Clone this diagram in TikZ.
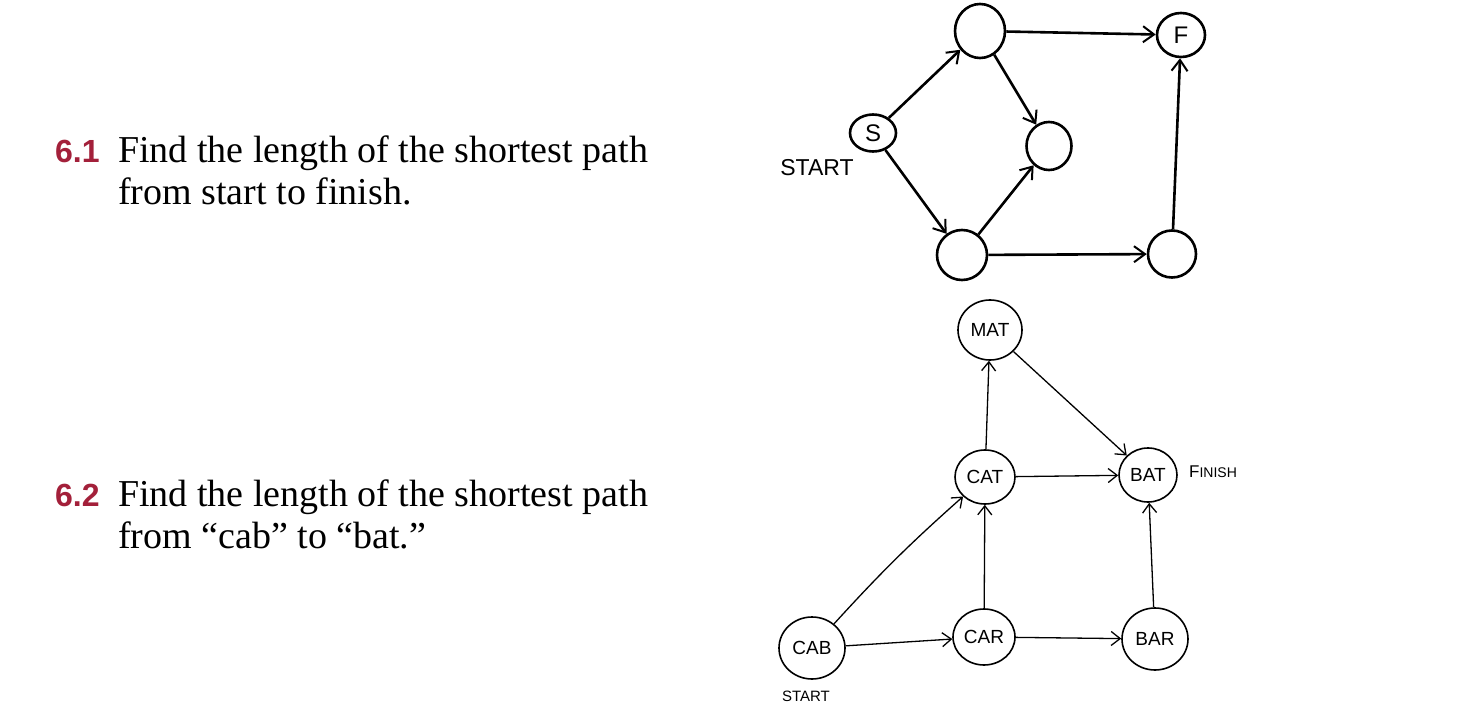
\documentclass[tikz,border=0pt]{standalone}
\usepackage{fontspec}
\setmainfont{Liberation Serif}
\newfontfamily\numfont{Liberation Sans}
\newfontfamily\handfont{Liberation Sans}
\usetikzlibrary{arrows.meta,shapes.geometric}
\definecolor{qred}{HTML}{A3203A}
\begin{document}
\begin{tikzpicture}[x=1pt,y=-1pt,
  qnum/.style={anchor=base west, inner sep=0pt, text=qred, font=\numfont\bfseries\fontsize{32}{32}\selectfont},
  qtext/.style={anchor=base west, inner sep=0pt, font=\fontsize{38}{43}\selectfont},
  topnode/.style={draw, ellipse, line width=2.6pt, inner sep=0pt, font=\handfont\fontsize{24}{24}\selectfont},
  botnode/.style={draw, ellipse, line width=1.6pt, inner sep=0pt, font=\handfont\fontsize{19}{19}\selectfont},
  toplabel/.style={inner sep=0pt, font=\handfont\fontsize{23}{23}\selectfont},
  botlabel/.style={inner sep=0pt, font=\handfont\fontsize{17}{17}\selectfont},
  topedge/.style={line width=2.6pt, -{Straight Barb[length=11pt,width=16pt,line width=2pt]}},
  botedge/.style={line width=1.3pt, -{Straight Barb[length=9pt,width=14pt,line width=1.3pt]}}
]
\useasboundingbox[fill=white] (0,0) rectangle (1460,717);

% questions
\node[qnum] (n1) at (55,162) {6.1};
\node[qtext] (t1a) at (118,162) {Find the length of the shortest path};
\node[qtext] (t1b) at (118,204) {from start to finish.};
\node[qnum] (n2) at (55,506) {6.2};
\node[qtext] (t2a) at (118,506) {Find the length of the shortest path};
\node[qtext] (t2b) at (118,548) {from “cab” to “bat.”};

% top graph
\node[topnode, minimum width=46pt, minimum height=37pt] (S) at (873,133) {S};
\node[topnode, minimum width=50pt, minimum height=54pt] (A) at (980,31) {};
\node[topnode, minimum width=48pt, minimum height=44pt] (F) at (1181,35) {F};
\node[topnode, minimum width=45pt, minimum height=48pt] (B) at (1049,146) {};
\node[topnode, minimum width=50pt, minimum height=50pt] (C) at (962,255) {};
\node[topnode, minimum width=48pt, minimum height=47pt] (D) at (1172,254) {};
\node[toplabel] (start1) at (817,168) {START};

\draw[topedge] (S) -- (A);
\draw[topedge] (S) -- (C);
\draw[topedge] (A) -- (F);
\draw[topedge] (A) -- (B);
\draw[topedge] (C) -- (B);
\draw[topedge] (C) -- (D);
\draw[topedge] (D) -- (F);

% bottom graph
\node[botnode, minimum width=64pt, minimum height=60pt] (MAT) at (990,330) {MAT};
\node[botnode, minimum width=60pt, minimum height=54pt] (CAT) at (985,477) {CAT};
\node[botnode, minimum width=58pt, minimum height=54pt] (BAT) at (1148,475) {BAT};
\node[botnode, minimum width=66pt, minimum height=62pt] (CAB) at (812,648) {CAB};
\node[botnode, minimum width=62pt, minimum height=56pt] (CAR) at (984,637) {CAR};
\node[botnode, minimum width=66pt, minimum height=62pt] (BAR) at (1155,639) {BAR};
\node[botlabel, anchor=west] (finish) at (1189,472) {F{\fontsize{14}{14}\selectfont INISH}};
\node[botlabel, font=\handfont\fontsize{15}{15}\selectfont] (start2) at (806,696) {START};

\draw[botedge] (CAT) -- (MAT);
\draw[botedge] (MAT) -- (BAT);
\draw[botedge] (CAT) -- (BAT);
\draw[botedge] (CAB) to[bend left=3] (CAT);
\draw[botedge] (CAR) -- (CAT);
\draw[botedge] (CAB) -- (CAR);
\draw[botedge] (CAR) -- (BAR);
\draw[botedge] (BAR) -- (BAT);
\end{tikzpicture}
\end{document}
